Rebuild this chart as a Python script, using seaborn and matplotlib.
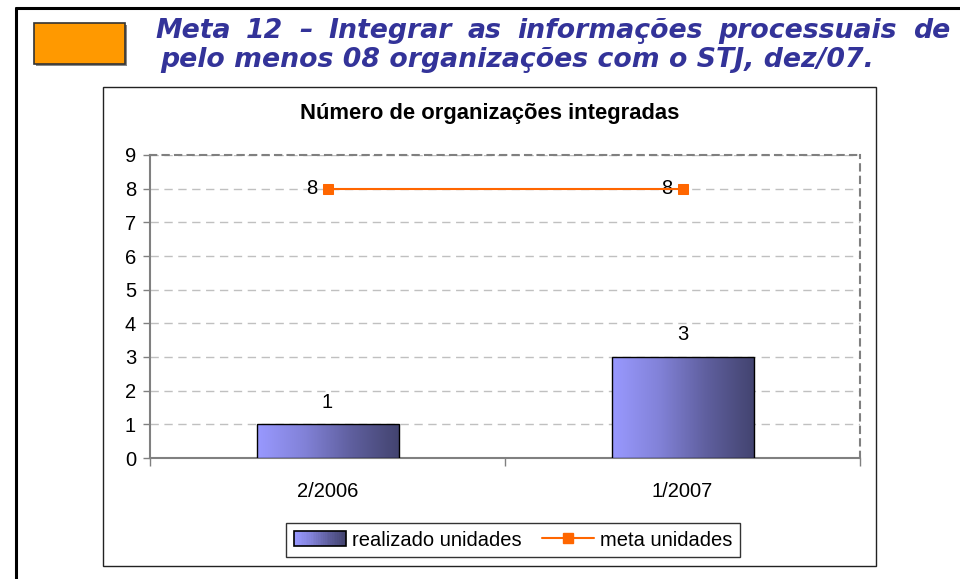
import numpy as np
import pandas as pd
import seaborn as sns
import matplotlib.pyplot as plt
from matplotlib.patches import Rectangle
from matplotlib.lines import Line2D
from matplotlib.legend_handler import HandlerBase
from matplotlib.colors import LinearSegmentedColormap

# data
periodos = ["2/2006", "1/2007"]
realizado = [1, 3]
meta = [8, 8]
header_line1 = "Meta 12 – Integrar as informações processuais de"
header_line2 = "pelo menos 08 organizações com o STJ, dez/07."
chart_title = "Número de organizações integradas"
serie_bar = "realizado unidades"
serie_line = "meta unidades"

df = pd.DataFrame({"periodo": periodos, "realizado": realizado, "meta": meta})

sns.set_style("white")
plt.rcParams["font.family"] = ["Liberation Sans", "DejaVu Sans"]
plt.rcParams["text.color"] = "black"
plt.rcParams["xtick.labelcolor"] = "black"
plt.rcParams["ytick.labelcolor"] = "black"

grad = LinearSegmentedColormap.from_list("g", ["#9999FF", "#8282D8", "#5F5F9E", "#434470"])
orange = "#FF6600"
navy = "#333399"
fs = 14.5

fig = plt.figure(figsize=(9.6, 5.79), dpi=100)

# outer frame lines
fig.add_artist(Line2D([16 / 960, 16 / 960], [0, 1 - 8 / 579], color="black", lw=2.2))
fig.add_artist(Line2D([16 / 960, 1], [1 - 8 / 579, 1 - 8 / 579], color="black", lw=2.2))
# orange box
fig.add_artist(Rectangle((36 / 960, 1 - 66 / 579), 91 / 960, 41 / 579, facecolor="#888888", edgecolor="none"))
fig.add_artist(Rectangle((34 / 960, 1 - 64 / 579), 91 / 960, 41 / 579, facecolor="#FF9900", edgecolor="#333333", lw=1.2))
# chart frame
fig.add_artist(Rectangle((103 / 960, 1 - 566 / 579), 773 / 960, 479 / 579, facecolor="none", edgecolor="#222222", lw=1.0))

# header text, line 1 justified
hfont = dict(family="DejaVu Sans", weight="bold", style="italic", size=19.3, color=navy)
words = header_line1.split(" ")
texts = [fig.text(0, 1 - 31 / 579, w, va="center", ha="left", **hfont) for w in words]
fig.canvas.draw()
r = fig.canvas.get_renderer()
widths = [t.get_window_extent(r).width for t in texts]
x0, x1 = 155, 950
gap = (x1 - x0 - sum(widths)) / (len(words) - 1)
x = x0
for t, w in zip(texts, widths):
    t.set_x(x / 960)
    x += w + gap
fig.text(160 / 960, 1 - 60 / 579, header_line2, va="center", ha="left", **hfont)

# chart title, centred on the chart frame
fig.text(489.5 / 960, 1 - 114 / 579, chart_title, ha="center", va="center",
         fontsize=15.8, fontweight="bold", color="black")

ax = fig.add_axes([150 / 960, 121 / 579, 710 / 960, 303 / 579])

sns.barplot(data=df, x="periodo", y="realizado", width=0.4, color="#8080C0",
            edgecolor="black", linewidth=1.0, ax=ax, zorder=3)
sns.lineplot(data=df, x="periodo", y="meta", color=orange, marker="s", markersize=7,
             markeredgecolor=orange, lw=1.5, ax=ax, zorder=4)

ax.set_xlim(-0.5, 1.5)
ax.set_ylim(0, 9)
ax.set_yticks(range(0, 10))

# gradient fill on bars
gimg = np.linspace(0, 1, 256).reshape(1, -1)
for p in ax.patches:
    bx, by = p.get_x(), p.get_y()
    bw, bh = p.get_width(), p.get_height()
    im = ax.imshow(gimg, cmap=grad, aspect="auto", extent=(bx, bx + bw, by, by + bh),
                   zorder=3, interpolation="bilinear")
    im.set_clip_path(p)
    p.set_facecolor("none")
    p.set_zorder(3.5)
    ax.annotate(str(int(bh)), (bx + bw / 2, by + bh), xytext=(0, 9), textcoords="offset points",
                ha="center", va="bottom", fontsize=fs)
ax.set_xlim(-0.5, 1.5)
ax.set_ylim(0, 9)

for i, v in enumerate(meta):
    ax.annotate(str(v), (i, v), xytext=(-7, 0), textcoords="offset points",
                ha="right", va="center", fontsize=fs)

ax.grid(axis="y", color="#C0C0C0", ls=(0, (6, 4)), lw=1.0, zorder=0)
for s in ["top", "right"]:
    ax.spines[s].set_linestyle((0, (3, 3)))
    ax.spines[s].set_color("#808080")
    ax.spines[s].set_linewidth(1.5)
for s in ["left", "bottom"]:
    ax.spines[s].set_color("#808080")
    ax.spines[s].set_linewidth(1.5)

ax.set_xlabel("")
ax.set_ylabel("")
ax.tick_params(axis="y", which="major", left=True, length=5, width=1, color="#808080",
               labelsize=fs, pad=5)
ax.tick_params(axis="x", which="major", bottom=False, labelsize=fs, pad=14)
ax.set_xticks([-0.5, 0.5, 1.5], minor=True)
ax.tick_params(axis="x", which="minor", bottom=True, length=6, width=1, color="#808080")


class GradientHandler(HandlerBase):
    def create_artists(self, legend, orig_handle, xdescent, ydescent, width, height, fontsize, trans):
        n = 30
        arts = []
        for k in range(n):
            arts.append(Rectangle((-xdescent + width * k / n, -ydescent), width / n + 0.3, height,
                                  facecolor=grad(k / (n - 1)), edgecolor="none", transform=trans))
        arts.append(Rectangle((-xdescent, -ydescent), width, height, facecolor="none",
                              edgecolor="black", lw=1.2, transform=trans))
        return arts


bar_handle = Rectangle((0, 0), 1, 1)
line_handle = Line2D([], [], color=orange, marker="s", markersize=7, lw=1.5)
leg = fig.legend([bar_handle, line_handle], [serie_bar, serie_line],
                 handler_map={bar_handle: GradientHandler()},
                 loc="center", bbox_to_anchor=(513 / 960, 1 - 540 / 579), ncol=2,
                 fontsize=fs, frameon=True, fancybox=False, edgecolor="black",
                 handlelength=2.6, handleheight=0.7, columnspacing=1.0, handletextpad=0.3,
                 borderpad=0.35)
leg.get_frame().set_linewidth(1.0)

fig.savefig("out.png", dpi=100)
